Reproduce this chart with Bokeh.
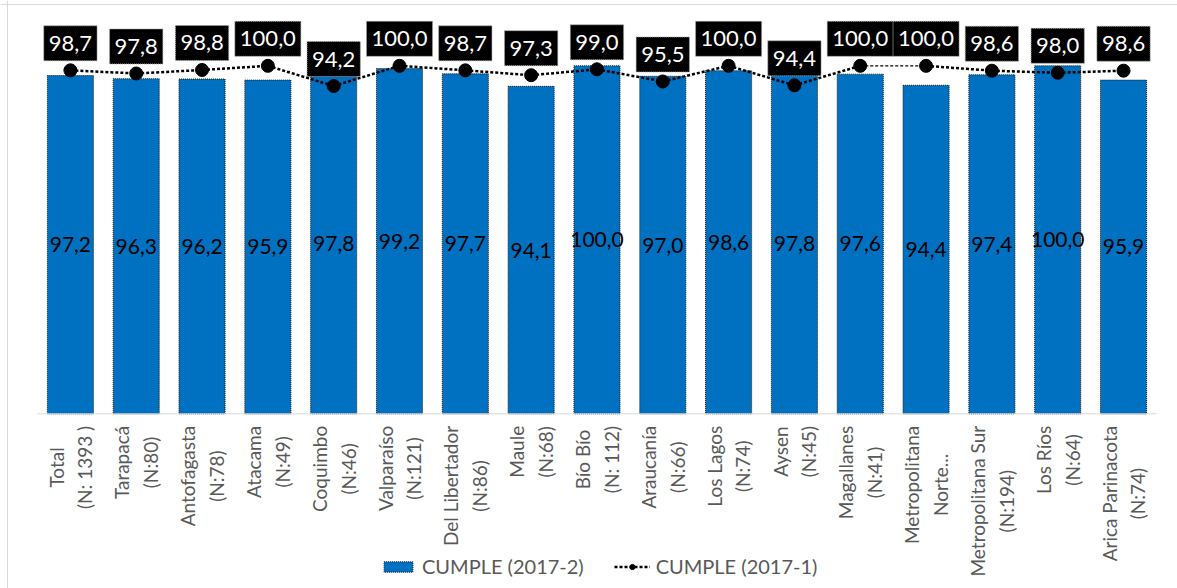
import numpy as np
from bokeh.plotting import figure
from bokeh.models import ColumnDataSource, Range1d, Span, Legend, LegendItem
from bokeh.core.properties import value
from bokeh.embed import file_html
from bokeh.resources import INLINE

# ---------------- data ----------------
regions = ["Total", "Tarapacá", "Antofagasta", "Atacama", "Coquimbo", "Valparaíso",
           "Del Libertador", "Maule", "Bío Bío", "Araucanía", "Los Lagos", "Aysen",
           "Magallanes", "Metropolitana", "Metropolitana Sur", "Los Ríos",
           "Arica Parinacota"]
sample_sizes = ["(N: 1393 )", "(N:80)", "(N:78)", "(N:49)", "(N:46)", "(N:121)",
                "(N:86)", "(N:68)", "(N: 112)", "(N:66)", "(N:74)", "(N:45)",
                "(N:41)", "Norte...", "(N:194)", "(N:64)", "(N:74)"]
cumple_2017_2 = [97.2, 96.3, 96.2, 95.9, 97.8, 99.2, 97.7, 94.1, 100.0, 97.0,
                 98.6, 97.8, 97.6, 94.4, 97.4, 100.0, 95.9]
cumple_2017_1 = [98.7, 97.8, 98.8, 100.0, 94.2, 100.0, 98.7, 97.3, 99.0, 95.5,
                 100.0, 94.4, 100.0, 100.0, 98.6, 98.0, 98.6]
series_names = ["CUMPLE (2017-2)", "CUMPLE (2017-1)"]
axis_max = 100.0


def fmt(v):
    return f"{v:.1f}".replace(".", ",")


n = len(regions)
idx = np.arange(n)
cur = np.array(cumple_2017_2)
prev = np.array(cumple_2017_1)

src = ColumnDataSource(dict(
    x=idx, cur=cur, half=cur / 2, prev=prev, zero=np.zeros(n),
    cur_lbl=[fmt(v) for v in cur], prev_lbl=[fmt(v) for v in prev],
    cat_lbl=[f"{r}\n{s}" for r, s in zip(regions, sample_sizes)],
))

# segments of the 2017-1 line
y0, y1 = prev[:-1], prev[1:]
flat_top = (y0 >= axis_max) & (y1 >= axis_max)
seg_main = ColumnDataSource(dict(x0=idx[:-1][~flat_top], x1=idx[1:][~flat_top],
                                 y0=y0[~flat_top], y1=y1[~flat_top]))
seg_top = ColumnDataSource(dict(x0=idx[:-1][flat_top], x1=idx[1:][flat_top],
                                y0=y0[flat_top], y1=y1[flat_top]))

FONT = value("Lato")

p = figure(width=1177, height=588,
           x_range=Range1d(-1.062, n - 1 + 0.82),
           y_range=Range1d(-50.2, 118.77),
           output_backend="svg", toolbar_location=None,
           x_axis_location=None, y_axis_location=None,
           min_border=0)
p.outline_line_color = None
p.background_fill_color = "white"
p.border_fill_color = "white"
p.xgrid.visible = False
p.ygrid.visible = False

# outer chart border (light gray)
p.add_layout(Span(location=-0.956, dimension="height", line_color="#d9d9d9", line_width=1))
p.add_layout(Span(location=117.6, dimension="width", line_color="#d9d9d9", line_width=1))

bars = p.vbar(x="x", top="cur", width=0.7, source=src,
              fill_color="#0070C0", line_color="#1a1a1a",
              line_dash="1 1", line_width=1)

# category axis baseline
p.segment(x0=[idx[0] - 0.5], x1=[idx[-1] + 0.5], y0=[0], y1=[0],
          line_color="#d9d9d9", line_width=1)

line_r = p.segment(x0="x0", y0="y0", x1="x1", y1="y1", source=seg_main,
                   line_color="black", line_width=2.5, line_dash="3 2")
p.segment(x0="x0", y0="y0", x1="x1", y1="y1", source=seg_top,
          line_color="black", line_width=1.2, line_dash="3 2")
dots = p.scatter(x="x", y="prev", source=src, size=13, color="black")

# bar value labels
p.text(x="x", y="half", text="cur_lbl", source=src,
       text_align="center", text_baseline="middle",
       text_color="black", text_font=FONT, text_font_size="21px")

# line value labels (black boxes)
p.text(x="x", y="prev", text="prev_lbl", source=src, y_offset=-27,
       text_align="center", text_baseline="middle",
       text_color="white", text_font=FONT, text_font_size="22px",
       background_fill_color="black", border_line_color="#a6a6a6",
       border_line_dash="1 1", padding=(5, 10))

# category labels (rotated, hanging under the axis)
p.text(x="x", y="zero", text="cat_lbl", source=src, angle=np.pi / 2,
       y_offset=12, anchor="center_right", text_align="center",
       text_baseline="middle", text_line_height=1.25,
       text_color="#595959", text_font=FONT, text_font_size="19px")

legend = Legend(items=[LegendItem(label=series_names[0], renderers=[bars]),
                       LegendItem(label=series_names[1], renderers=[line_r, dots])],
                location=(380, 10), orientation="horizontal",
                glyph_width=36, glyph_height=13, label_standoff=6, spacing=30,
                padding=0, margin=0, border_line_color=None,
                background_fill_alpha=0,
                label_text_font="Lato", label_text_font_size="20px",
                label_text_color="#595959")
p.add_layout(legend)

open("out.html", "w").write(file_html(p, INLINE))
